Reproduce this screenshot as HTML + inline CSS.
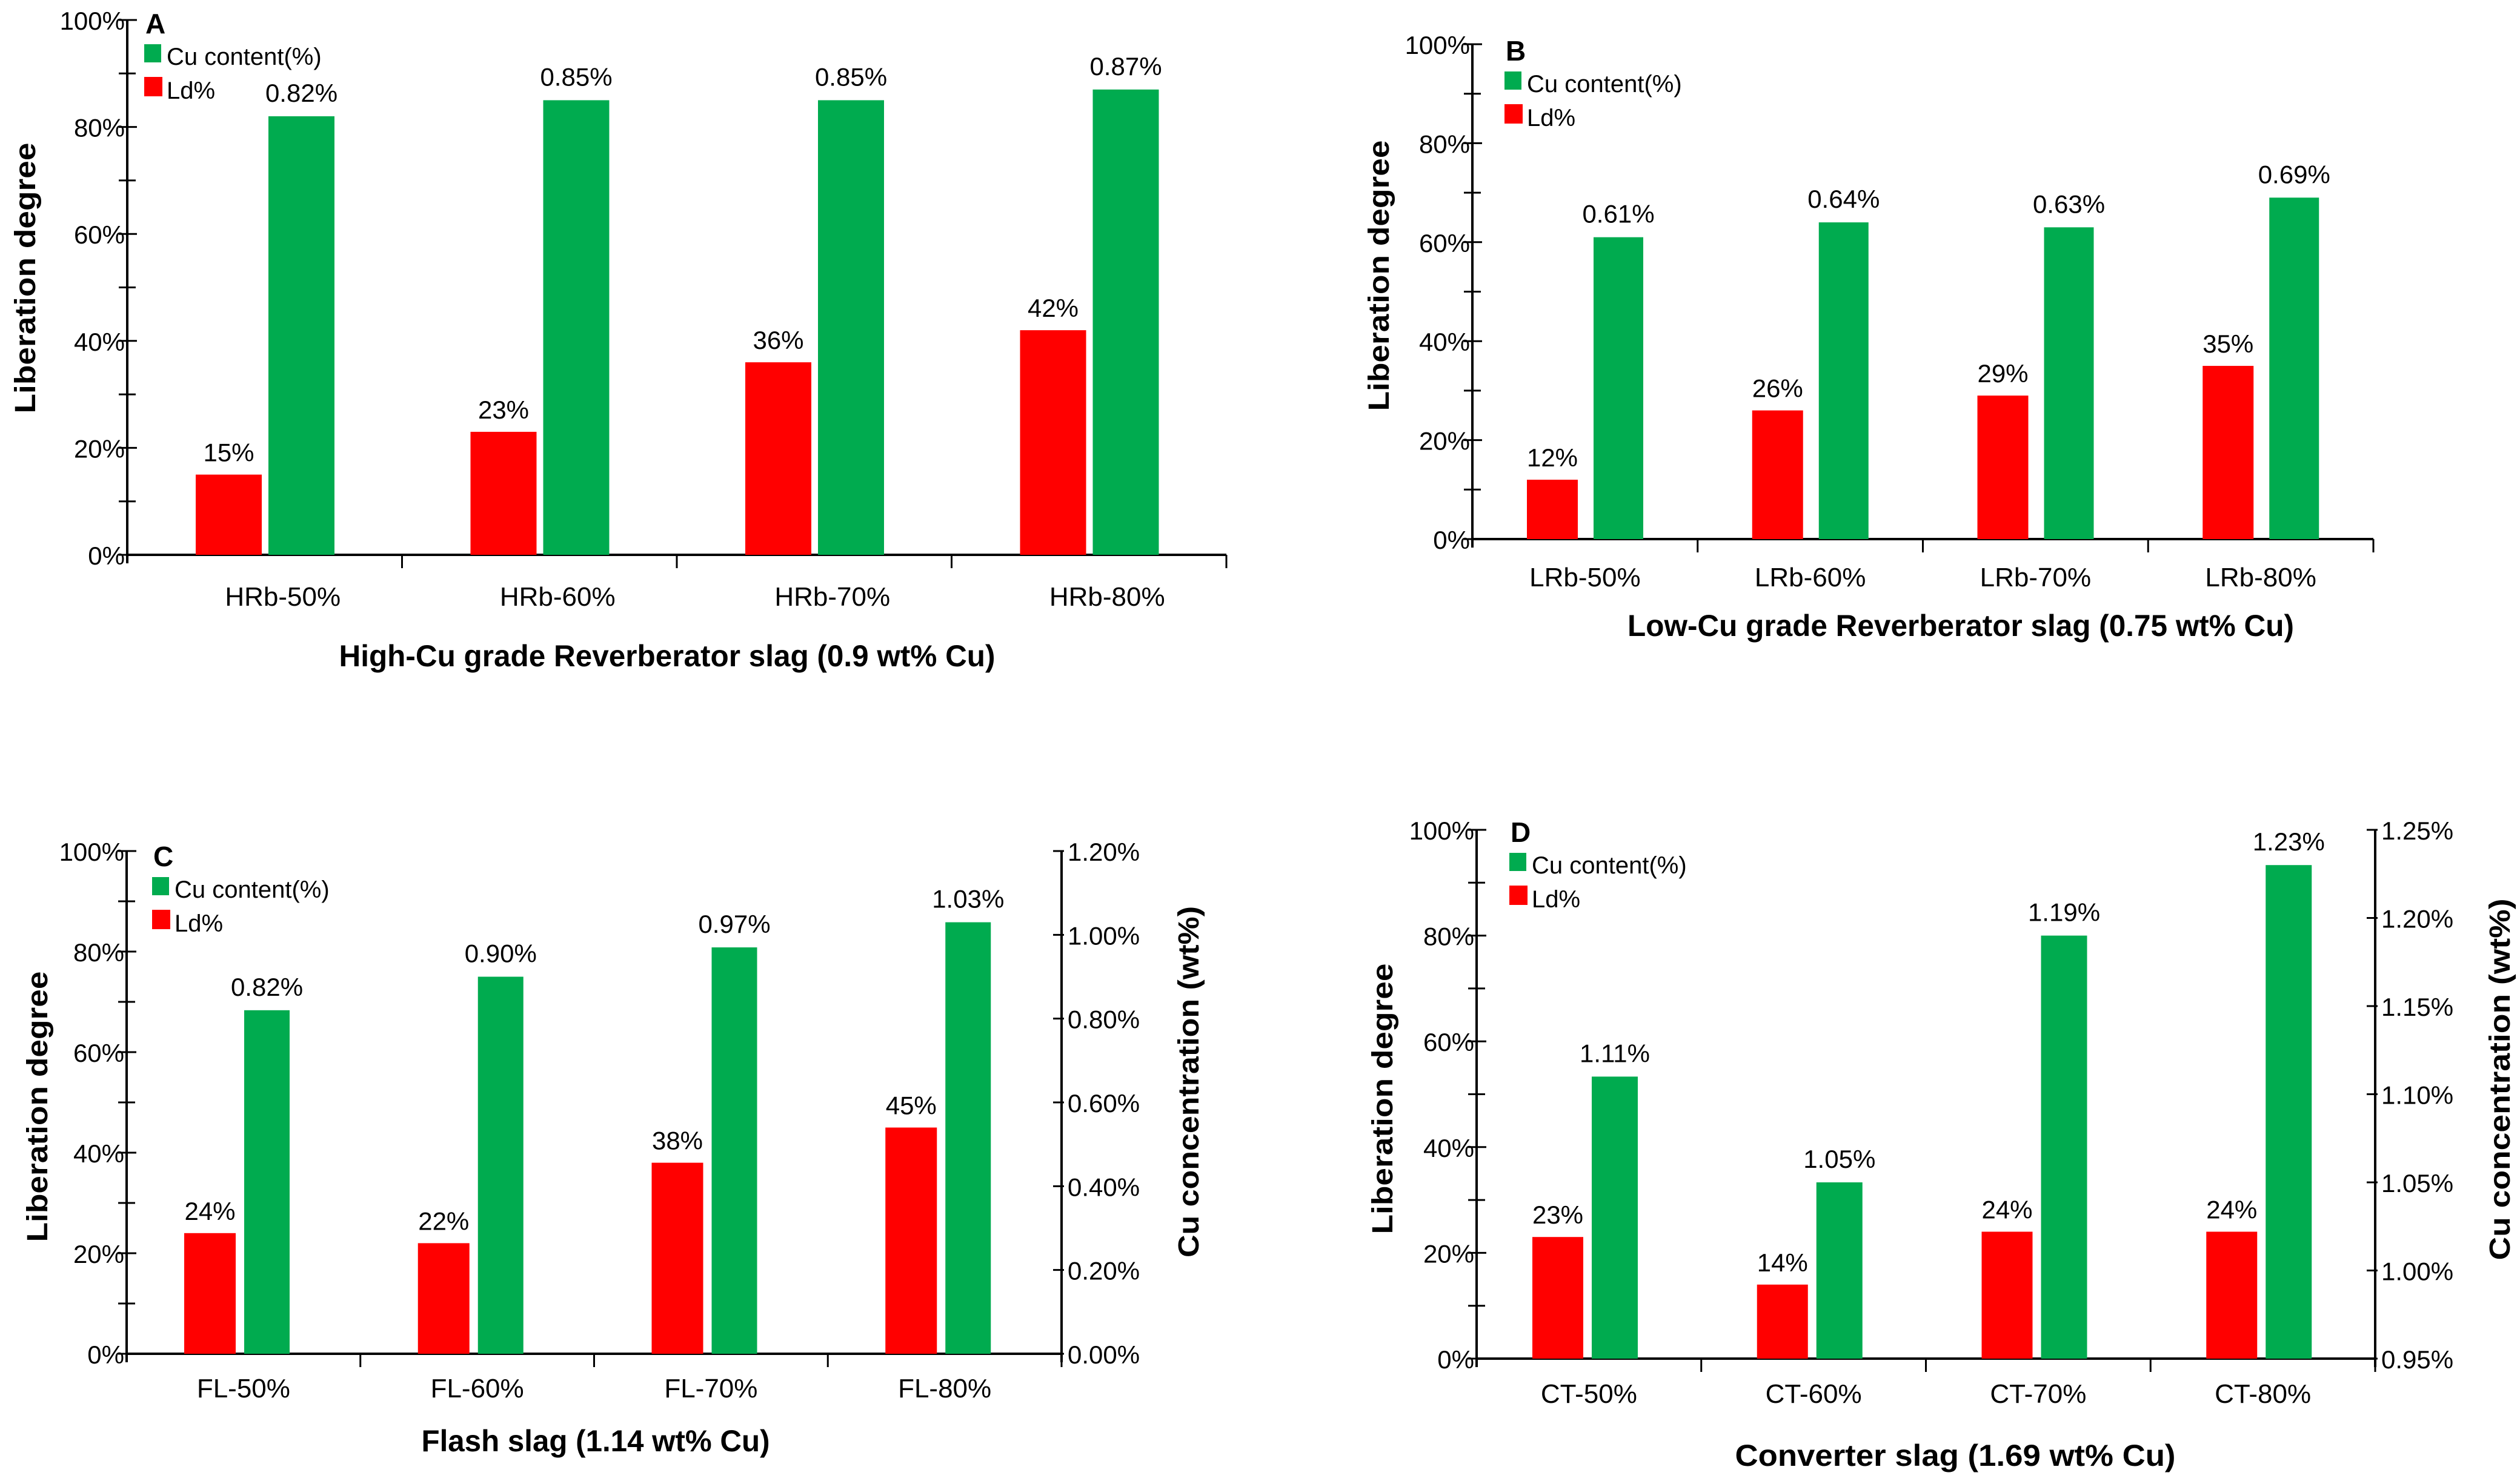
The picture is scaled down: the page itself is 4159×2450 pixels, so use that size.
<!DOCTYPE html>
<html><head><meta charset="utf-8"><style>
html,body{margin:0;padding:0;background:#fff;}
svg{display:block;font-family:"Liberation Sans",Arial,sans-serif;}
</style></head><body>
<svg id="fig" width="4159" height="2450" viewBox="0 0 4159 2450" xmlns="http://www.w3.org/2000/svg"></svg>
<script>
// ---- data ----
const catsA = ["HRb-50%","HRb-60%","HRb-70%","HRb-80%"];
const ldA = [15,23,36,42];
const cuA = [0.82,0.85,0.85,0.87];
const catsB = ["LRb-50%","LRb-60%","LRb-70%","LRb-80%"];
const ldB = [12,26,29,35];
const cuB = [0.61,0.64,0.63,0.69];
const catsC = ["FL-50%","FL-60%","FL-70%","FL-80%"];
const ldC = [24,22,38,45];
const cuC = [0.82,0.90,0.97,1.03];
const catsD = ["CT-50%","CT-60%","CT-70%","CT-80%"];
const ldD = [23,14,24,24];
const cuD = [1.11,1.05,1.19,1.23];
const leftTicks = [0,20,40,60,80,100];
const rightTicksC = [0,0.2,0.4,0.6,0.8,1.0,1.2];
const rightTicksD = [0.95,1.00,1.05,1.10,1.15,1.20,1.25];

const NS="http://www.w3.org/2000/svg";
const svg=document.getElementById('fig');
function mk(tag,attrs,parent){const e=document.createElementNS(NS,tag);for(const k in attrs)e.setAttribute(k,attrs[k]);(parent||svg).appendChild(e);return e;}
function txt(s,attrs,parent){const e=mk('text',attrs,parent);e.textContent=s;return e;}

function panel(cfg){
  const g=mk('g',{});
  
  
  const {x0,x1,yTop,yBot}=cfg;
  const yL=v=>yBot-(v/100)*(yBot-yTop);
  const yG=cfg.rmin===undefined? (v=>yL(v*100)) : (v=>yBot-(v-cfg.rmin)/(cfg.rmax-cfg.rmin)*(yBot-yTop));
  const gw=(x1-x0)/cfg.cats.length;
  const ax=mk('line',{x1:x0,y1:yTop,x2:x0,y2:yBot+14,stroke:'#000','stroke-width':4},g);
  
  
  for(let v=0;v<=100;v+=10){
    mk('line',{x1:x0-14,y1:yL(v),x2:x0+(v%20===0?16:14),y2:yL(v),stroke:'#000','stroke-width':3},g);
  }
  leftTicks.forEach(v=>{
    const t=txt(v+'%',{x:x0-4,y:yL(v)+16,'font-size':42,'text-anchor':'end'},g);
    
    
  });
  const xa=mk('line',{x1:x0,y1:yBot,x2:x1,y2:yBot,stroke:'#000','stroke-width':4},g);
  
  
  for(let i=1;i<=cfg.cats.length;i++){
    mk('line',{x1:x0+gw*i,y1:yBot,x2:x0+gw*i,y2:yBot+22,stroke:'#000','stroke-width':3},g);
  }
  if(cfg.rticks){
    const ra=mk('line',{x1:x1,y1:yTop,x2:x1,y2:yBot+14,stroke:'#000','stroke-width':4},g);
    
    
    cfg.rticks.forEach(v=>{
      mk('line',{x1:x1-14,y1:yG(v),x2:x1+4,y2:yG(v),stroke:'#000','stroke-width':3},g);
      const t=txt(v.toFixed(2)+'%',{x:x1+10,y:yG(v)+16,'font-size':42},g);
      
      
    });
    const rt=txt('Cu concentration (wt%)',{x:0,y:0,'font-size':48,'font-weight':'bold','text-anchor':'middle',transform:`translate(${cfg.rtx},${cfg.rty}) rotate(-90)`,textLength:cfg.rtl,lengthAdjust:'spacingAndGlyphs'},g);
    
    
  }
  cfg.cats.forEach((c,i)=>{
    const gx=x0+gw*i;
    const rx=gx+cfg.ro, gxx=gx+cfg.go;
    const rb=mk('rect',{x:rx,y:yL(cfg.ld[i]),width:cfg.rw,height:yBot-yL(cfg.ld[i]),fill:'#ff0000'},g);
    
    
    const gb=mk('rect',{x:gxx,y:yG(cfg.cu[i]),width:cfg.gwid,height:yBot-yG(cfg.cu[i]),fill:'#00ab4f'},g);
    
    
    const rl=txt(cfg.ld[i]+'%',{x:rx+cfg.rw/2,y:yL(cfg.ld[i])-22,'font-size':42,'text-anchor':'middle'},g);
    
    
    const gl=txt(cfg.cu[i].toFixed(2)+'%',{x:gxx+cfg.gwid/2,y:yG(cfg.cu[i])-24,'font-size':42,'text-anchor':'middle'},g);
    
    
    const cl=txt(c,{x:gx+gw/2+cfg.lo,y:cfg.catY,'font-size':44,'text-anchor':'middle'},g);
    
    
  });
  const L=cfg.leg;
  const pl=txt(cfg.id,{x:L.x+2,y:L.y,'font-size':46,'font-weight':'bold'},g);
  
  
  const s1=mk('rect',{x:L.x,y:L.y+18,width:28,height:30,fill:'#00ab4f'},g);
  
  
  const t1=txt('Cu content(%)',{x:L.x+37,y:L.y+52,'font-size':40},g);
  
  
  const s2=mk('rect',{x:L.x,y:L.y+72,width:30,height:32,fill:'#ff0000'},g);
  
  
  const t2=txt('Ld%',{x:L.x+37,y:L.y+108,'font-size':40},g);
  
  
  const xt=txt(cfg.title,{x:cfg.tx,y:cfg.ty,'font-size':50,'font-weight':'bold','text-anchor':'middle',textLength:cfg.tl,lengthAdjust:'spacingAndGlyphs'},g);
  
  
  const yt=txt('Liberation degree',{x:0,y:0,'font-size':48,'font-weight':'bold','text-anchor':'middle',transform:`translate(${cfg.ytx},${cfg.yty}) rotate(-90)`,textLength:447,lengthAdjust:'spacingAndGlyphs'},g);
  
  
}

panel({id:'A',cats:catsA,ld:ldA,cu:cuA,x0:210,x1:2024,yTop:33,yBot:916,ro:113,rw:109,go:233,gwid:109,lo:30,catY:1000,
  leg:{x:238,y:55},title:'High-Cu grade Reverberator slag (0.9 wt% Cu)',tx:1101,ty:1100,tl:1083,ytx:58,yty:459});
panel({id:'B',cats:catsB,ld:ldB,cu:cuB,x0:2430,x1:3917,yTop:73,yBot:890,ro:90,rw:84,go:200,gwid:82,lo:0,catY:968,
  leg:{x:2483,y:100},title:'Low-Cu grade Reverberator slag (0.75 wt% Cu)',tx:3236,ty:1050,tl:1100,ytx:2292,yty:455});
panel({id:'C',cats:catsC,ld:ldC,cu:cuC,x0:209,x1:1752,yTop:1405,yBot:2235,ro:95,rw:85,go:194,gwid:75,lo:0,catY:2307,
  rmin:0,rmax:1.2,rticks:rightTicksC,rtx:1978,rty:1786,rtl:580,
  leg:{x:251,y:1430},title:'Flash slag (1.14 wt% Cu)',tx:983,ty:2396,tl:575,ytx:78,yty:1827});
panel({id:'D',cats:catsD,ld:ldD,cu:cuD,x0:2437,x1:3920,yTop:1370,yBot:2243,ro:92,rw:84,go:190,gwid:76,lo:0,catY:2316,
  rmin:0.95,rmax:1.25,rticks:rightTicksD,rtx:4142,rty:1782,rtl:597,
  leg:{x:2491,y:1390},title:'Converter slag (1.69 wt% Cu)',tx:3227,ty:2420,tl:727,ytx:2298,yty:1814});
</script>
</body></html>
